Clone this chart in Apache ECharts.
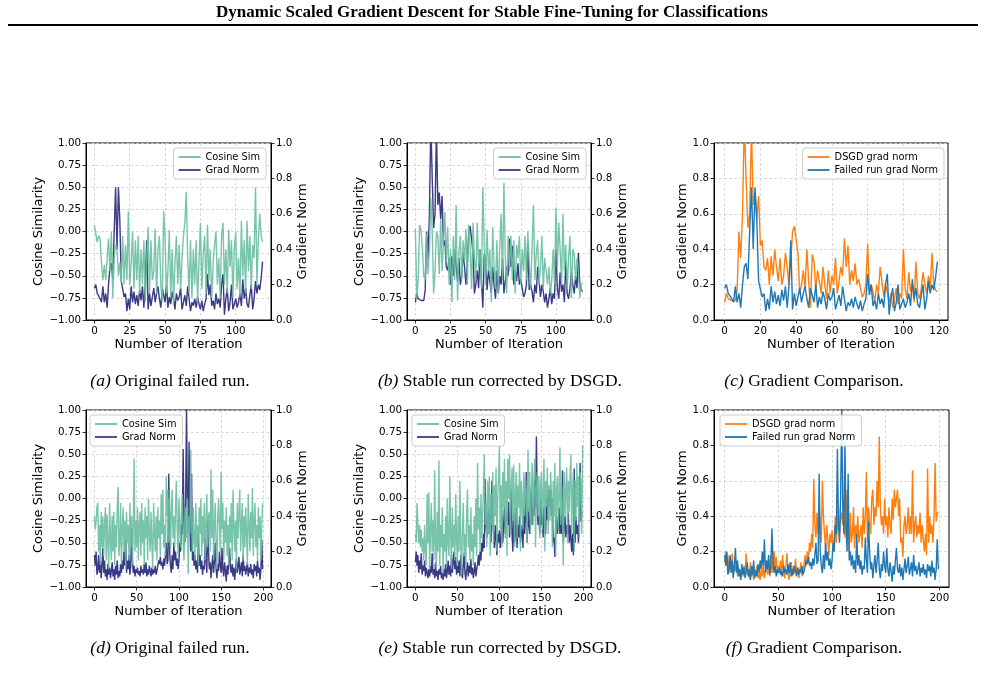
<!DOCTYPE html>
<html>
<head>
<meta charset="utf-8">
<script src="https://cdn.jsdelivr.net/npm/echarts@6/dist/echarts.min.js"></script>
<style>
html, body { margin: 0; padding: 0; background: #fff; }
#main { width: 985px; height: 677px; }
</style>
</head>
<body>
<div id="main"></div>
<script>
// ---- data ----
var iters120 = [];
for (var i = 0; i < 120; i++) iters120.push(i);
var iters200 = [];
for (var j = 0; j < 200; j++) iters200.push(j);

// (a) original failed run, 120 iterations
var cosA = [0.07,0.08,-0.12,-0.05,-0.08,-0.35,-0.55,-0.38,-0.55,-0.3,
  -0.08,-0.45,0.0,-0.75,-0.3,-0.15,-0.2,-0.5,-0.35,-0.58,
  -0.05,-0.6,-0.15,-0.55,0.23,-0.6,-0.35,0.0,-0.65,-0.1,
  -0.55,-0.05,-0.7,-0.2,-0.6,-0.1,-0.8,-0.3,0.05,-0.7,
  -0.1,-0.55,-0.45,0.03,-0.7,-0.2,-0.05,-0.6,-0.8,0.23,
  -0.1,-0.7,-0.45,0.02,-0.75,-0.2,-0.8,-0.35,-0.05,-0.6,
  -0.15,-0.65,-0.3,-0.05,0.1,0.45,-0.3,-0.7,-0.1,-0.75,
  -0.2,-0.6,-0.1,-0.8,-0.35,0.1,-0.65,-0.25,-0.05,-0.7,
  0.08,-0.55,-0.2,-0.75,-0.35,-0.15,0.0,-0.6,-0.3,-0.75,
  -0.05,0.1,-0.6,-0.2,-0.7,0.02,-0.4,-0.1,-0.75,-0.2,
  0.0,-0.65,-0.3,-0.75,0.12,-0.5,-0.1,-0.7,0.12,-0.45,
  -0.05,-0.65,-0.15,-0.3,0.5,-0.6,-0.1,0.2,-0.05,-0.12];
var gnA = [0.18,0.2,0.15,0.16,0.12,0.1,0.19,0.1,0.15,0.07,
  0.2,0.3,0.32,0.23,0.5,0.75,0.4,0.75,0.56,0.22,
  0.21,0.13,0.15,0.05,0.12,0.06,0.19,0.1,0.16,0.09,
  0.14,0.08,0.17,0.11,0.19,0.07,0.2,0.45,0.06,0.15,
  0.08,0.13,0.18,0.1,0.15,0.19,0.12,0.07,0.18,0.14,
  0.1,0.2,0.07,0.13,0.09,0.16,0.12,0.06,0.15,0.11,
  0.13,0.18,0.06,0.1,0.14,0.08,0.19,0.12,0.05,0.1,
  0.08,0.12,0.07,0.13,0.09,0.06,0.11,0.05,0.09,0.12,
  0.26,0.14,0.2,0.08,0.11,0.06,0.15,0.09,0.12,0.07,
  0.2,0.26,0.03,0.12,0.18,0.05,0.1,0.2,0.06,0.09,
  0.12,0.07,0.1,0.15,0.08,0.23,0.12,0.18,0.09,0.07,
  0.14,0.2,0.06,0.12,0.22,0.15,0.2,0.17,0.24,0.33];

// (b) stable run with DSGD, 120 iterations
var cosB = [0.03,-0.75,-0.55,0.07,0.02,-0.2,-0.5,-0.55,-0.02,-0.48,
  -0.2,0.38,0.0,-0.7,-0.45,0.0,-0.05,-0.48,0.13,-0.45,
  -0.1,0.22,-0.35,0.05,-0.6,-0.2,-0.8,-0.05,-0.55,0.3,
  -0.78,-0.25,-0.05,-0.55,-0.1,-0.35,0.03,-0.6,0.08,-0.2,
  -0.65,0.1,-0.3,-0.55,0.1,-0.4,-0.2,-0.65,0.5,-0.15,
  -0.6,0.02,-0.45,-0.2,-0.8,0.05,-0.4,-0.65,-0.1,-0.7,
  -0.2,0.2,-0.55,0.55,-0.3,-0.7,-0.05,-0.45,-0.05,-0.55,
  -0.1,-0.7,-0.15,-0.3,-0.05,-0.6,-0.2,-0.45,-0.05,-0.55,
  0.0,-0.35,-0.65,-0.2,0.3,-0.55,-0.25,-0.1,-0.6,-0.4,
  -0.05,-0.65,-0.3,-0.45,-0.6,-0.4,-0.7,-0.55,-0.2,-0.6,
  0.27,-0.4,0.1,-0.2,-0.6,0.2,-0.45,-0.15,-0.65,-0.3,
  -0.05,-0.75,-0.2,-0.25,-0.55,-0.3,-0.45,-0.75,-0.6,-0.58];
var gnB = [0.1,0.15,0.12,0.12,0.11,0.12,0.11,0.17,0.5,0.35,
  0.6,1.12,0.8,0.52,0.6,1.08,0.65,0.72,0.57,0.7,
  0.42,0.45,0.3,0.28,0.35,0.2,0.36,0.25,0.4,0.3,
  0.22,0.35,0.2,0.25,0.38,0.3,0.2,0.33,0.5,0.53,
  0.53,0.38,0.15,0.2,0.28,0.18,0.4,0.22,0.07,0.37,
  0.33,0.17,0.28,0.22,0.15,0.3,0.2,0.12,0.28,0.15,
  0.25,0.2,0.35,0.15,0.22,0.3,0.25,0.46,0.3,0.42,
  0.2,0.28,0.22,0.32,0.2,0.23,0.18,0.13,0.15,0.2,
  0.43,0.17,0.2,0.16,0.1,0.2,0.15,0.3,0.22,0.13,
  0.2,0.16,0.1,0.15,0.07,0.12,0.18,0.09,0.15,0.12,
  0.4,0.18,0.12,0.27,0.16,0.2,0.1,0.33,0.15,0.12,
  0.18,0.27,0.2,0.15,0.25,0.18,0.38,0.2,0.17,0.16];

// (d) original failed run, 200 iterations
var cosD = [-0.2,-0.35,-0.25,-0.1,-0.05,-0.6,-0.3,-0.75,-0.15,-0.55,
  -0.2,-0.65,-0.3,-0.1,-0.7,-0.18,-0.5,-0.8,-0.05,-0.45,
  -0.7,-0.2,-0.6,-0.15,-0.75,-0.3,-0.55,-0.1,0.13,-0.65,
  -0.5,-0.05,-0.75,-0.35,-0.1,-0.6,-0.25,-0.8,-0.15,-0.5,
  -0.3,-0.7,-0.05,-0.55,-0.2,-0.75,-0.3,0.45,-0.6,-0.25,
  -0.55,-0.1,-0.7,-0.3,-0.15,-0.65,-0.05,-0.5,-0.25,-0.75,
  -0.1,-0.45,-0.2,-0.7,0.0,-0.4,-0.6,-0.15,-0.5,-0.8,
  -0.05,-0.35,-0.6,-0.2,-0.7,-0.1,-0.45,-0.25,-0.65,0.05,
  -0.4,0.1,-0.55,-0.3,-0.65,0.25,-0.2,0.1,-0.5,0.0,
  -0.6,-0.15,0.1,-0.45,-0.2,-0.55,-0.1,0.2,-0.35,-0.65,
  0.0,-0.3,-0.55,-0.15,0.05,-0.5,-0.7,-0.2,-0.1,-0.45,
  0.0,-0.85,-0.2,-0.4,0.55,-0.3,-0.6,-0.1,-0.45,-0.7,
  -0.05,-0.55,-0.3,-0.75,-0.1,-0.4,0.0,-0.65,-0.2,-0.5,
  -0.05,-0.7,-0.3,0.05,-0.55,-0.2,-0.15,-0.6,0.33,-0.45,
  0.1,-0.7,-0.3,-0.05,-0.55,-0.8,-0.2,0.0,-0.3,-0.6,
  0.3,-0.35,-0.05,-0.7,-0.25,-0.5,-0.1,-0.65,-0.3,-0.75,
  -0.2,-0.5,-0.05,-0.7,0.1,-0.3,-0.6,-0.25,-0.8,-0.05,
  -0.45,-0.15,0.1,-0.6,-0.3,-0.05,-0.7,-0.2,-0.55,-0.1,
  -0.4,-0.75,0.05,-0.3,-0.6,-0.15,-0.45,0.12,-0.65,-0.25,
  -0.05,-0.55,-0.3,-0.7,-0.1,-0.45,-0.2,-0.7,-0.35,-0.05];
var gnD = [0.18,0.12,0.2,0.07,0.1,0.18,0.08,0.15,0.05,0.12,
  0.22,0.08,0.15,0.06,0.1,0.04,0.13,0.07,0.11,0.05,
  0.09,0.14,0.06,0.1,0.04,0.12,0.07,0.15,0.05,0.09,
  0.06,0.13,0.08,0.15,0.1,0.2,0.12,0.27,0.08,0.15,
  0.1,0.18,0.07,0.12,0.33,0.15,0.08,0.12,0.06,0.1,
  0.08,0.11,0.07,0.09,0.06,0.12,0.08,0.1,0.07,0.13,
  0.08,0.14,0.06,0.1,0.07,0.12,0.09,0.06,0.11,0.07,
  0.1,0.08,0.12,0.07,0.09,0.12,0.15,0.13,0.17,0.12,
  0.14,0.1,0.16,0.12,0.18,0.25,0.13,0.15,0.64,0.2,
  0.12,0.08,0.18,0.1,0.25,0.15,0.2,0.12,0.16,0.1,
  0.15,0.25,0.2,0.35,0.3,0.78,0.35,0.25,0.5,1.03,
  0.45,0.3,0.82,0.35,0.2,0.64,0.15,0.2,0.12,0.18,
  0.1,0.15,0.08,0.3,0.12,0.18,0.1,0.15,0.07,0.12,
  0.1,0.28,0.15,0.08,0.37,0.2,0.1,0.14,0.05,0.12,
  0.18,0.08,0.15,0.25,0.1,0.05,0.13,0.09,0.2,0.12,
  0.08,0.22,0.1,0.06,0.14,0.09,0.03,0.12,0.07,0.15,
  0.22,0.1,0.08,0.13,0.06,0.11,0.04,0.1,0.16,0.08,
  0.12,0.17,0.07,0.1,0.14,0.06,0.18,0.09,0.12,0.07,
  0.1,0.14,0.06,0.11,0.08,0.13,0.07,0.1,0.05,0.13,
  0.09,0.12,0.06,0.15,0.08,0.11,0.04,0.1,0.27,0.1];

// (e) stable run with DSGD, 200 iterations
var cosE = [-0.4,-0.5,-0.05,-0.3,-0.5,-0.3,-0.55,-0.35,-0.6,-0.45,
  -0.7,-0.3,-0.6,-0.75,0.05,-0.5,0.07,-0.8,-0.35,-0.05,
  -0.6,-0.25,-0.7,0.32,-0.5,-0.8,-0.15,-0.6,0.43,-0.75,
  -0.3,-0.55,-0.1,-0.85,-0.4,-0.6,-0.2,-0.75,0.0,-0.5,
  -0.65,0.25,-0.4,-0.8,-0.1,-0.55,-0.3,-0.7,0.05,-0.45,
  -0.75,-0.2,-0.6,0.2,-0.5,-0.85,-0.35,-0.05,-0.65,-0.4,
  -0.8,-0.15,0.1,-0.55,-0.3,-0.7,-0.1,-0.6,-0.4,-0.75,
  -0.2,-0.55,0.0,-0.65,0.4,-0.35,-0.1,-0.6,0.05,-0.45,
  -0.2,0.1,0.5,-0.3,-0.05,-0.55,0.2,-0.4,0.25,-0.65,
  0.05,-0.3,0.3,-0.5,0.15,-0.2,0.35,-0.6,0.0,0.25,
  0.6,-0.35,0.15,-0.55,0.3,-0.1,0.45,-0.45,0.2,-0.65,
  0.45,0.0,0.5,-0.4,0.1,0.35,-0.25,0.38,-0.55,0.05,
  0.3,-0.45,0.15,-0.1,0.4,-0.6,0.2,0.0,-0.35,0.3,
  -0.2,0.25,0.05,-0.5,0.55,-0.15,0.3,-0.4,0.1,0.4,
  -0.3,0.2,0.45,-0.55,0.1,0.3,-0.2,0.25,-0.45,0.15,
  0.3,-0.35,0.05,0.45,-0.6,0.2,-0.1,0.35,-0.4,0.15,
  -0.25,0.3,0.0,-0.55,0.2,-0.2,0.4,-0.65,0.1,0.25,
  -0.35,0.05,0.58,-0.3,0.15,-0.1,-0.75,0.3,-0.2,0.1,
  0.35,-0.5,0.2,-0.15,0.25,0.5,-0.4,0.1,0.3,-0.6,
  0.2,-0.25,0.4,-0.1,0.25,-0.45,0.3,0.15,-0.4,0.6];
var gnE = [0.14,0.2,0.12,0.18,0.08,0.15,0.1,0.19,0.07,0.12,
  0.09,0.15,0.06,0.11,0.08,0.05,0.1,0.06,0.12,0.08,
  0.19,0.07,0.1,0.05,0.14,0.06,0.09,0.04,0.1,0.07,
  0.12,0.05,0.08,0.04,0.1,0.06,0.13,0.05,0.09,0.15,
  0.07,0.12,0.06,0.18,0.08,0.14,0.2,0.1,0.17,0.07,
  0.12,0.08,0.15,0.06,0.18,0.1,0.05,0.12,0.19,0.08,
  0.04,0.1,0.14,0.06,0.12,0.08,0.16,0.07,0.11,0.05,
  0.09,0.14,0.06,0.1,0.13,0.18,0.12,0.2,0.15,0.25,
  0.2,0.3,0.22,0.61,0.35,0.28,0.42,0.3,0.45,0.35,
  0.25,0.6,0.4,0.3,0.22,0.35,0.27,0.18,0.3,0.25,
  0.32,0.22,0.27,0.4,0.25,0.35,0.45,0.3,0.38,0.42,
  0.35,0.48,0.28,0.38,0.55,0.3,0.2,0.42,0.25,0.3,
  0.45,0.22,0.35,0.28,0.4,0.25,0.3,0.35,0.22,0.45,
  0.3,0.4,0.65,0.25,0.45,0.35,0.3,0.5,0.55,0.35,
  0.45,0.4,0.6,0.45,0.85,0.45,0.35,0.4,0.3,0.5,
  0.35,0.4,0.28,0.45,0.35,0.3,0.5,0.38,0.55,0.45,
  0.45,0.55,0.4,0.5,0.25,0.28,0.17,0.35,0.4,0.3,
  0.35,0.45,0.3,0.4,0.3,0.66,0.25,0.35,0.4,0.28,
  0.35,0.3,0.42,0.25,0.35,0.27,0.2,0.3,0.18,0.67,
  0.25,0.4,0.3,0.35,0.25,0.4,0.7,0.37,0.42,0.42];

var ticks120 = [0, 25, 50, 75, 100];
var ticks120c = [0, 20, 40, 60, 80, 100, 120];
var ticks200 = [0, 50, 100, 150, 200];
var captions = ['(a)', ' Original failed run.', '(b)', ' Stable run corrected by DSGD.', '(c)', ' Gradient Comparison.',
                '(d)', ' Original failed run.', '(e)', ' Stable run corrected by DSGD.', '(f)', ' Gradient Comparison.'];

// ---- styling ----
var GREEN = '#69bea1', NAVY = '#3b3a87', ORANGE = '#ff7f0e', BLUE = '#1f77b4';
var FONT = 'DejaVu Sans';
var gridLine = { show: true, lineStyle: { color: '#d2d2d2', width: 0.8, type: [3, 2] } };

function pair(xs, ys) {
    return ys.map(function (v, i) { return [xs[i], v]; });
}
function cosFmt(v) {
    return (v < 0 ? '\u2212' : '') + Math.abs(v).toFixed(2);
}
function oneFmt(v) { return v.toFixed(1); }

var panels = [
    { left: 86, top: 143, width: 185, height: 177, kind: 'dual', xs: iters120, xMin: -5.95, xMax: 124.95, xt: ticks120,
      a: cosA, b: gnA, legend: { right: 719, top: 148 } },
    { left: 407, top: 143, width: 184, height: 177, kind: 'dual', xs: iters120, xMin: -5.95, xMax: 124.95, xt: ticks120,
      a: cosB, b: gnB, legend: { right: 399, top: 148 } },
    { left: 714, top: 143, width: 234, height: 177, kind: 'cmp', xs: iters120, xMin: -5.95, xMax: 124.95, xt: ticks120c,
      a: gnB, b: gnA, legend: { right: 41, top: 148 } },
    { left: 86, top: 410, width: 185, height: 177, kind: 'dual', xs: iters200, xMin: -9.95, xMax: 208.95, xt: ticks200,
      a: cosD, b: gnD, legend: { left: 90, top: 415 } },
    { left: 407, top: 410, width: 184, height: 177, kind: 'dual', xs: iters200, xMin: -9.95, xMax: 208.95, xt: ticks200,
      a: cosE, b: gnE, legend: { left: 412, top: 415 } },
    { left: 714, top: 410, width: 235, height: 177, kind: 'cmp', xs: iters200, xMin: -9.95, xMax: 208.95, xt: ticks200,
      a: gnE, b: gnD, legend: { left: 720, top: 415 } }
];

var option = {
    backgroundColor: '#fff',
    animation: false,
    textStyle: { fontFamily: FONT },
    grid: [], xAxis: [], yAxis: [], series: [], legend: [],
    graphic: []
};

function yAxisBase(k, pos, min, max, step, fmt, name, gap, split) {
    return {
        type: 'value', gridIndex: k, position: pos, min: min, max: max, interval: step,
        name: name, nameLocation: 'middle', nameGap: gap, nameRotate: 90,
        nameTextStyle: { fontFamily: FONT, fontSize: 13, color: '#000' },
        axisLine: { show: true, onZero: false, lineStyle: { color: '#000', width: 1 } },
        axisTick: { show: true, length: 3.5, lineStyle: { color: '#000', width: 0.8 } },
        axisLabel: { fontFamily: FONT, fontSize: 10.3, color: '#000', margin: 5, formatter: fmt },
        splitLine: split ? gridLine : { show: false }
    };
}

var yIdx = 0;
panels.forEach(function (p, k) {
    option.grid.push({
        left: p.left, top: p.top, width: p.width, height: p.height,
        show: true, borderColor: '#000', borderWidth: 1, containLabel: false, outerBoundsMode: 'none'
    });
    option.xAxis.push({
        type: 'value', gridIndex: k, min: p.xMin, max: p.xMax,
        name: 'Number of Iteration', nameLocation: 'middle', nameGap: 18,
        nameTextStyle: { fontFamily: FONT, fontSize: 13, color: '#000' },
        axisLine: { onZero: false, lineStyle: { color: '#000', width: 1 } },
        axisTick: { customValues: p.xt, length: 3.5, lineStyle: { color: '#000', width: 0.8 } },
        axisLabel: { customValues: p.xt, fontFamily: FONT, fontSize: 10.3, color: '#000', margin: 6 },
        splitLine: gridLine
    });

    var legendNames;
    if (p.kind === 'dual') {
        option.yAxis.push(yAxisBase(k, 'left', -1, 1, 0.25, cosFmt, 'Cosine Similarity', 38, true));
        option.yAxis.push(yAxisBase(k, 'right', 0, 1, 0.2, oneFmt, 'Gradient Norm', 23, false));
        option.series.push({
            name: 'Grad Norm', type: 'line', xAxisIndex: k, yAxisIndex: yIdx + 1,
            data: pair(p.xs, p.b), symbol: 'none', showSymbol: false, z: 2,
            lineStyle: { color: NAVY, width: 1.4 }, itemStyle: { color: NAVY }
        });
        option.series.push({
            name: 'Cosine Sim', type: 'line', xAxisIndex: k, yAxisIndex: yIdx,
            data: pair(p.xs, p.a), symbol: 'none', showSymbol: false, z: 3,
            lineStyle: { color: GREEN, width: 1.4, opacity: 0.9 }, itemStyle: { color: GREEN }
        });
        legendNames = ['Cosine Sim', 'Grad Norm'];
        yIdx += 2;
    } else {
        option.yAxis.push(yAxisBase(k, 'left', 0, 1, 0.2, oneFmt, 'Gradient Norm', 24, true));
        option.series.push({
            name: 'DSGD grad norm', type: 'line', xAxisIndex: k, yAxisIndex: yIdx,
            data: pair(p.xs, p.a), symbol: 'none', showSymbol: false, z: 2,
            lineStyle: { color: ORANGE, width: 1.4 }, itemStyle: { color: ORANGE }
        });
        option.series.push({
            name: 'Failed run grad Norm', type: 'line', xAxisIndex: k, yAxisIndex: yIdx,
            data: pair(p.xs, p.b), symbol: 'none', showSymbol: false, z: 3,
            lineStyle: { color: BLUE, width: 1.4 }, itemStyle: { color: BLUE }
        });
        legendNames = ['DSGD grad norm', 'Failed run grad Norm'];
        yIdx += 1;
    }

    var lg = {
        data: legendNames, orient: 'vertical', align: 'left',
        icon: 'rect', itemWidth: 22, itemHeight: 1.8, itemGap: 3,
        padding: [4, 6, 4, 5],
        backgroundColor: 'rgba(255,255,255,0.85)', borderColor: '#cccccc', borderWidth: 1, borderRadius: 3,
        textStyle: { fontFamily: FONT, fontSize: 9.8, color: '#000' },
        selectedMode: false
    };
    Object.keys(p.legend).forEach(function (key) { lg[key] = p.legend[key]; });
    option.legend.push(lg);
});

// page title, rule and sub-captions
option.graphic.push({
    type: 'text', x: 492, y: 13,
    style: { text: 'Dynamic Scaled Gradient Descent for Stable Fine-Tuning for Classifications',
             fontFamily: 'Liberation Serif', fontSize: 17, fontWeight: 'bold', fill: '#000',
             align: 'center', verticalAlign: 'middle' }
});
option.graphic.push({
    type: 'rect', shape: { x: 8, y: 24, width: 970, height: 2 }, style: { fill: '#000' }
});
var capX = [170, 500, 814];
var capY = [381, 648];
for (var c = 0; c < 6; c++) {
    option.graphic.push({
        type: 'text', x: capX[c % 3], y: capY[Math.floor(c / 3)],
        style: {
            text: '{i|' + captions[2 * c] + '}' + captions[2 * c + 1],
            fontFamily: 'Liberation Serif', fontSize: 17.5, fill: '#000',
            align: 'center', verticalAlign: 'middle',
            rich: { i: { fontStyle: 'italic', fontFamily: 'Liberation Serif', fontSize: 17.5 } }
        }
    });
}

var myChart = echarts.init(document.getElementById('main'));
myChart.setOption(option);
</script>
</body>
</html>
